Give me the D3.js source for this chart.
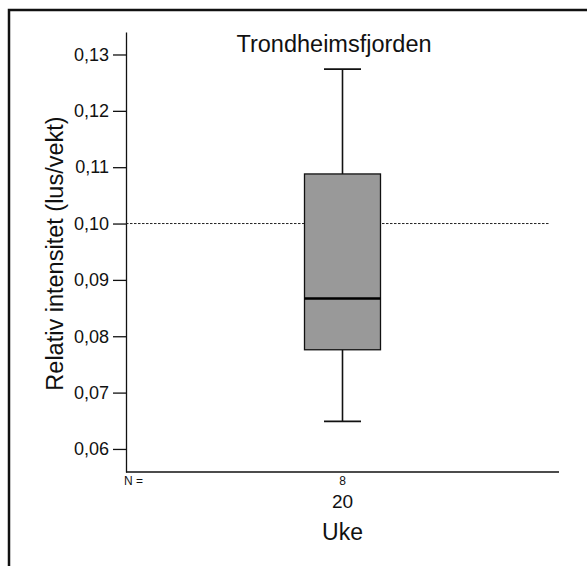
<!DOCTYPE html>
<html>
<head>
<meta charset="utf-8">
<script src="https://cdn.jsdelivr.net/npm/d3@7"></script>
<style>
  html, body { margin: 0; padding: 0; background: #fff; }
  svg { display: block; font-family: "Liberation Sans", Arial, sans-serif; }
</style>
</head>
<body>
<svg id="chart" width="587" height="566"></svg>
<script>
// Week categories and sample counts
const weeks = ["20"];
const counts = [8];
// Box statistics per week: lower whisker, Q1, median, Q3, upper whisker
const whiskerLow = [0.0649];
const q1 = [0.0776];
const median = [0.0867];
const q3 = [0.1088];
const whiskerHigh = [0.1274];
// Y axis tick values and reference level
const yTicks = [0.06, 0.07, 0.08, 0.09, 0.10, 0.11, 0.12, 0.13];
const refLevel = [0.10];

const svg = d3.select("#chart");

// Outer frame
svg.append("rect")
  .attr("x", 9).attr("y", 10)
  .attr("width", 640).attr("height", 640)
  .attr("fill", "none").attr("stroke", "#111").attr("stroke-width", 2.5);

const plotLeft = 126, plotRight = 559, plotTop = 32, plotBottom = 472;

const y = d3.scaleLinear().domain([0.05591, 0.13399]).range([plotBottom, plotTop]);
const x = d3.scaleBand().domain(weeks).range([plotLeft, plotRight]);

const fmt = v => d3.format(".2f")(v).replace(".", ",");

// Y axis
const yAxis = svg.append("g")
  .attr("transform", `translate(${plotLeft},0)`)
  .call(d3.axisLeft(y).tickValues(yTicks).tickFormat(fmt).tickSize(13).tickSizeOuter(0).tickPadding(4));
yAxis.select(".domain").attr("stroke", "#111").attr("stroke-width", 1.3);
yAxis.selectAll(".tick line").attr("stroke", "#111").attr("stroke-width", 1.3);
yAxis.selectAll(".tick text").attr("font-size", 18).attr("fill", "#111")
  .attr("font-family", "Liberation Sans, Arial, sans-serif");

// X axis baseline
svg.append("line")
  .attr("x1", plotLeft).attr("x2", plotRight)
  .attr("y1", plotBottom).attr("y2", plotBottom)
  .attr("stroke", "#111").attr("stroke-width", 1.5);

// Reference line
svg.selectAll(".ref").data(refLevel).enter().append("line")
  .attr("x1", plotLeft).attr("x2", 550)
  .attr("y1", d => y(d)).attr("y2", d => y(d))
  .attr("stroke", "#222").attr("stroke-width", 1)
  .attr("stroke-dasharray", "2.5,1.5");

// Box plots
const boxW = 76, capW = 37;
weeks.forEach((w, i) => {
  const cx = x(w) + x.bandwidth() / 2;
  const g = svg.append("g");
  // whiskers
  g.append("line").attr("x1", cx).attr("x2", cx)
    .attr("y1", y(whiskerHigh[i])).attr("y2", y(q3[i]))
    .attr("stroke", "#111").attr("stroke-width", 1.6);
  g.append("line").attr("x1", cx).attr("x2", cx)
    .attr("y1", y(q1[i])).attr("y2", y(whiskerLow[i]))
    .attr("stroke", "#111").attr("stroke-width", 1.6);
  // caps
  [whiskerHigh[i], whiskerLow[i]].forEach(v => {
    g.append("line").attr("x1", cx - capW / 2).attr("x2", cx + capW / 2)
      .attr("y1", y(v)).attr("y2", y(v))
      .attr("stroke", "#111").attr("stroke-width", 1.6);
  });
  // box
  g.append("rect")
    .attr("x", cx - boxW / 2).attr("width", boxW)
    .attr("y", y(q3[i])).attr("height", y(q1[i]) - y(q3[i]))
    .attr("fill", "#999999").attr("stroke", "#111").attr("stroke-width", 1.3);
  // median
  g.append("line").attr("x1", cx - boxW / 2).attr("x2", cx + boxW / 2)
    .attr("y1", y(median[i])).attr("y2", y(median[i]))
    .attr("stroke", "#000").attr("stroke-width", 2.4);
  // count and category labels
  svg.append("text").attr("x", cx).attr("y", plotBottom + 13)
    .attr("text-anchor", "middle").attr("font-size", 12).attr("fill", "#111")
    .text(counts[i]);
  svg.append("text").attr("x", cx).attr("y", 508)
    .attr("text-anchor", "middle").attr("font-size", 19).attr("fill", "#111")
    .text(w);
});

// N = label
svg.append("text").attr("x", 124).attr("y", plotBottom + 13)
  .attr("font-size", 12).attr("fill", "#111").text("N =");

// Axis titles
svg.append("text").attr("x", x(weeks[0]) + x.bandwidth() / 2).attr("y", 540)
  .attr("text-anchor", "middle").attr("font-size", 23).attr("fill", "#111")
  .text("Uke");
svg.append("text")
  .attr("transform", "translate(62.5,253.5) rotate(-90)")
  .attr("text-anchor", "middle").attr("font-size", 23.5).attr("fill", "#111")
  .text("Relativ intensitet (lus/vekt)");

// Chart title
svg.append("text").attr("x", 334).attr("y", 52)
  .attr("text-anchor", "middle").attr("font-size", 23.5).attr("fill", "#111")
  .text("Trondheimsfjorden");
</script>
</body>
</html>
